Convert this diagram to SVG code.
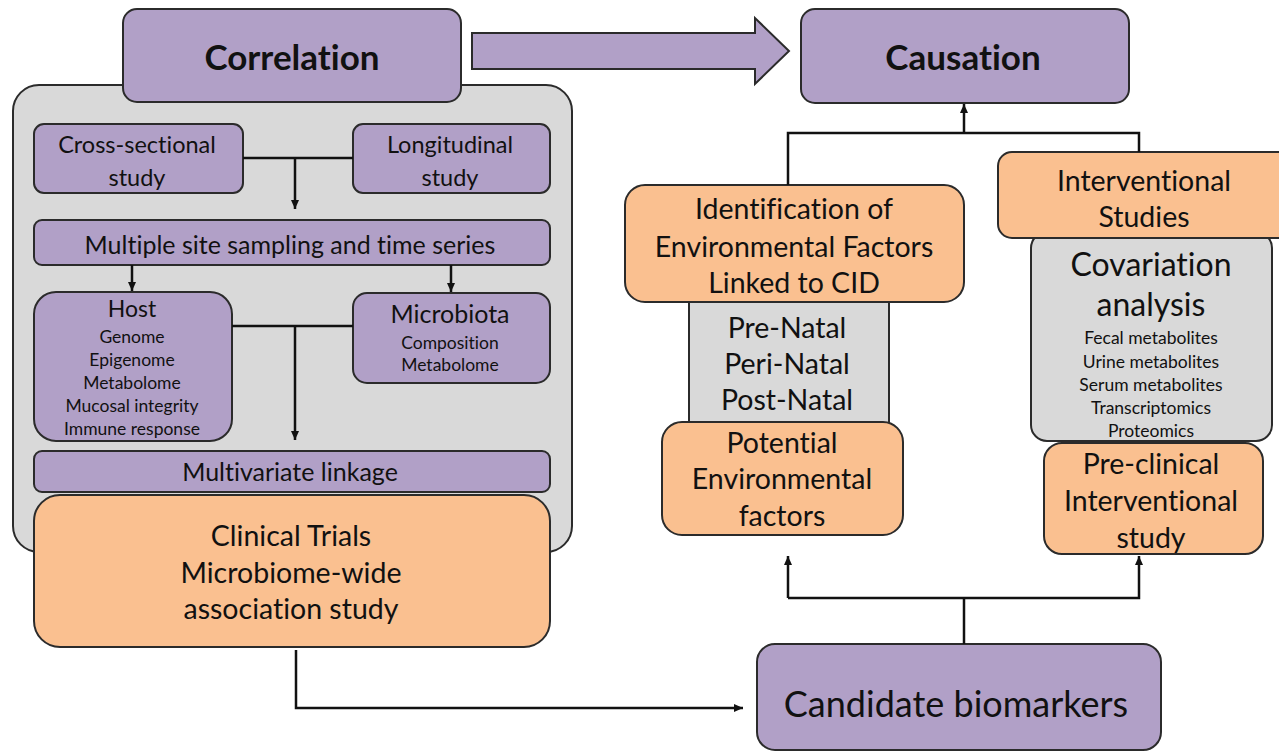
<svg xmlns="http://www.w3.org/2000/svg" width="1279" height="753" viewBox="0 0 1279 753">
  <defs>
    <marker id="arrow" markerWidth="10" markerHeight="10" refX="9" refY="5" orient="auto" markerUnits="userSpaceOnUse">
      <path d="M0,1 L9,5 L0,9 Z" fill="#111"/>
    </marker>
    <style>
      .purple { fill: #b1a0c7; stroke: #2b2b2b; stroke-width: 2; }
      .orange { fill: #fac090; stroke: #2b2b2b; stroke-width: 2; }
      .grey { fill: #d9d9d9; stroke: #2b2b2b; stroke-width: 2; }
      .line { fill: none; stroke: #111; stroke-width: 2.5; }
      .arr { fill: none; stroke: #111; stroke-width: 2.5; marker-end: url(#arrow); }
      text { font-family: Lato, "Open Sans", "Liberation Sans", sans-serif; fill: #111; text-anchor: middle; dominant-baseline: central; font-variant-ligatures: none; font-feature-settings: "liga" 0, "clig" 0, "dlig" 0, "calt" 0, "hlig" 0; }
      .title { font-size: 35px; font-weight: bold; }
      .big { font-size: 36px; }
      .cov { font-size: 32px; }
      .mid { font-size: 28.5px; }
      .med { font-size: 25px; }
      .small { font-size: 17.5px; }
    </style>
  </defs>

  <!-- left container: correlation studies -->
  <g id="correlation-panel">
    <rect class="grey" x="13" y="85" width="559" height="467" rx="26"/>
  </g>

  <g id="correlation">
    <rect class="purple" x="123" y="9" width="338" height="93" rx="14"/>
    <text class="title" x="292" y="56">Correlation</text>
  </g>

  <g id="big-arrow">
    <path class="purple" d="M472,33 L755,33 L755,18 L789,51 L755,84 L755,69 L472,69 Z"/>
  </g>

  <g id="causation">
    <rect class="purple" x="801" y="9" width="328" height="94" rx="14"/>
    <text class="title" x="963" y="56">Causation</text>
  </g>

  <g id="cross-sectional">
    <rect class="purple" x="34" y="124" width="209" height="69" rx="10"/>
    <text class="med" x="137" y="144" style="font-size:23.5px">Cross-sectional</text>
    <text class="med" x="137" y="177" style="font-size:23.5px">study</text>
  </g>

  <g id="longitudinal">
    <rect class="purple" x="353" y="124" width="197" height="69" rx="10"/>
    <text class="med" x="450" y="144" style="font-size:23.5px">Longitudinal</text>
    <text class="med" x="450" y="177" style="font-size:23.5px">study</text>
  </g>

  <g id="multiple-site">
    <rect class="purple" x="34" y="220" width="516" height="45" rx="8"/>
    <text class="med" x="290" y="244">Multiple site sampling and time series</text>
  </g>

  <g id="host">
    <rect class="purple" x="34" y="292" width="198" height="149" rx="22"/>
    <text class="med" x="132" y="308" style="font-size:23px">Host</text>
    <text class="small" x="132" y="336">Genome</text>
    <text class="small" x="132" y="359">Epigenome</text>
    <text class="small" x="132" y="382">Metabolome</text>
    <text class="small" x="132" y="405">Mucosal integrity</text>
    <text class="small" x="132" y="428">Immune response</text>
  </g>

  <g id="microbiota">
    <rect class="purple" x="353" y="293" width="197" height="90" rx="14"/>
    <text class="med" x="450" y="313">Microbiota</text>
    <text class="small" x="450" y="342">Composition</text>
    <text class="small" x="450" y="364">Metabolome</text>
  </g>

  <g id="multivariate">
    <rect class="purple" x="34" y="451" width="516" height="41" rx="8"/>
    <text class="med" x="290" y="471">Multivariate linkage</text>
  </g>

  <g id="clinical-trials">
    <rect class="orange" x="34" y="495" width="516" height="152" rx="26"/>
    <text class="mid" x="291" y="535">Clinical Trials</text>
    <text class="mid" x="291" y="572">Microbiome-wide</text>
    <text class="mid" x="291" y="608">association study</text>
  </g>

  <!-- right side: causation evidence -->
  <g id="pre-peri-post">
    <rect class="grey" x="689" y="290" width="200" height="140"/>
    <text class="mid" x="787" y="327">Pre-Natal</text>
    <text class="mid" x="787" y="363">Peri-Natal</text>
    <text class="mid" x="787" y="399">Post-Natal</text>
  </g>

  <g id="identification">
    <rect class="orange" x="625" y="185" width="339" height="117" rx="20"/>
    <text class="mid" x="794" y="208">Identification of</text>
    <text class="mid" x="794" y="246">Environmental Factors</text>
    <text class="mid" x="794" y="282">Linked to CID</text>
  </g>

  <g id="potential-factors">
    <rect class="orange" x="662" y="422" width="241" height="113" rx="20"/>
    <text class="mid" x="782" y="442">Potential</text>
    <text class="mid" x="782" y="478">Environmental</text>
    <text class="mid" x="782" y="515">factors</text>
  </g>

  <g id="covariation">
    <rect class="grey" x="1031" y="232" width="241" height="209" rx="16"/>
    <text class="cov" x="1151" y="263">Covariation</text>
    <text class="cov" x="1151" y="303">analysis</text>
    <text class="small" x="1151" y="337">Fecal metabolites</text>
    <text class="small" x="1151" y="361">Urine metabolites</text>
    <text class="small" x="1151" y="384">Serum metabolites</text>
    <text class="small" x="1151" y="407">Transcriptomics</text>
    <text class="small" x="1151" y="430">Proteomics</text>
  </g>

  <g id="interventional">
    <rect class="orange" x="998" y="152" width="300" height="86" rx="14"/>
    <text class="mid" x="1144" y="180">Interventional</text>
    <text class="mid" x="1144" y="216">Studies</text>
  </g>

  <g id="pre-clinical">
    <rect class="orange" x="1044" y="443" width="219" height="111" rx="18"/>
    <text class="mid" x="1151" y="463">Pre-clinical</text>
    <text class="mid" x="1151" y="500">Interventional</text>
    <text class="mid" x="1151" y="537">study</text>
  </g>

  <g id="candidate-biomarkers">
    <rect class="purple" x="757" y="644" width="404" height="106" rx="18"/>
    <text class="big" x="956" y="703">Candidate biomarkers</text>
  </g>

  <!-- connectors -->
  <g id="connectors">
    <line class="line" x1="243" y1="158" x2="353" y2="158"/>
    <line class="arr" x1="295" y1="158" x2="295" y2="209"/>
    <line class="arr" x1="132" y1="265" x2="132" y2="291"/>
    <line class="arr" x1="451" y1="265" x2="451" y2="292"/>
    <line class="line" x1="232" y1="326" x2="353" y2="326"/>
    <line class="arr" x1="295" y1="326" x2="295" y2="440"/>
    <polyline class="arr" points="296,650 296,708 743,708"/>
    <polyline class="line" points="788,185 788,133 1139,133 1139,152"/>
    <line class="arr" x1="964" y1="133" x2="964" y2="104"/>
    <line class="line" x1="964" y1="644" x2="964" y2="598"/>
    <polyline class="arr" points="788,598 1139,598 1139,556"/>
    <line class="arr" x1="788" y1="598" x2="788" y2="556"/>
  </g>
</svg>
